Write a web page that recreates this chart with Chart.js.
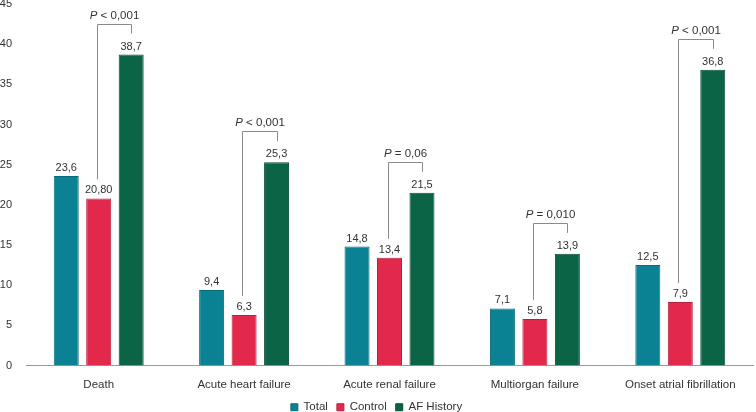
<!DOCTYPE html>
<html>
<head>
<meta charset="utf-8">
<script src="https://cdn.jsdelivr.net/npm/chart.js@4"></script>
<style>
  body { margin: 0; background: #fff; }
  #wrap { width: 756px; height: 412px; }
</style>
</head>
<body>
<div id="wrap"><canvas id="myChart"></canvas></div>
<script>
// categorias y series
const categories = ["Death", "Acute heart failure", "Acute renal failure", "Multiorgan failure", "Onset atrial fibrillation"];
const totalData = [23.6, 9.4, 14.8, 7.1, 12.5];
const controlData = [20.8, 6.3, 13.4, 5.8, 7.9];
const afData = [38.7, 25.3, 21.5, 13.9, 36.8];
// etiquetas tal como salen en la figura
const totalLabels = ["23,6", "9,4", "14,8", "7,1", "12,5"];
const controlLabels = ["20,80", "6,3", "13,4", "5,8", "7,9"];
const afLabels = ["38,7", "25,3", "21,5", "13,9", "36,8"];
const pSigns = ["<", "<", "=", "=", "<"];
const pValues = ["0,001", "0,001", "0,06", "0,010", "0,001"];
const yTicks = [0, 5, 10, 15, 20, 25, 30, 35, 40, 45];

const FONT = '"Liberation Sans", Arial, sans-serif';
const TXT = "#333";

// etiquetas de valor + corchetes con P
const annotPlugin = {
  id: "annot",
  afterDatasetsDraw(chart) {
    const ctx = chart.ctx;
    const labelSets = [totalLabels, controlLabels, afLabels];
    ctx.save();
    ctx.font = "11px " + FONT;
    ctx.fillStyle = TXT;
    ctx.textAlign = "center";
    ctx.textBaseline = "alphabetic";
    labelSets.forEach((labs, d) => {
      chart.getDatasetMeta(d).data.forEach((bar, i) => {
        ctx.fillText(labs[i], bar.x, bar.y - 5);
      });
    });

    const mc = chart.getDatasetMeta(1).data;
    const ma = chart.getDatasetMeta(2).data;
    ctx.strokeStyle = "#8a8a8a";
    ctx.lineWidth = 1;
    for (let i = 0; i < categories.length; i++) {
      const c = mc[i], a = ma[i];
      const lx = Math.round(c.x - 2) + 0.5;
      const rx = Math.round(a.x) + 0.5;
      const top = Math.round(a.y - 31) + 0.5;
      ctx.beginPath();
      ctx.moveTo(lx, c.y - 19);
      ctx.lineTo(lx, top);
      ctx.lineTo(rx, top);
      ctx.lineTo(rx, a.y - 21);
      ctx.stroke();

      // texto P (P en cursiva)
      const pPart = "P";
      const rest = " " + pSigns[i] + " " + pValues[i];
      ctx.font = "italic 11.5px " + FONT;
      const w1 = ctx.measureText(pPart).width;
      ctx.font = "11.5px " + FONT;
      const w2 = ctx.measureText(rest).width;
      const cx = (lx + rx) / 2;
      const x0 = cx - (w1 + w2) / 2;
      const ty = top - 6;
      ctx.textAlign = "left";
      ctx.font = "italic 11.5px " + FONT;
      ctx.fillText(pPart, x0, ty);
      ctx.font = "11.5px " + FONT;
      ctx.fillText(rest, x0 + w1, ty);
      ctx.textAlign = "center";
      ctx.font = "11px " + FONT;
    }
    ctx.restore();
  }
};

const ctx = document.getElementById("myChart");
new Chart(ctx, {
  type: "bar",
  data: {
    labels: categories,
    datasets: [
      {
        label: "Total",
        data: totalData,
        backgroundColor: "#0a8294",
        borderColor: "#086b79",
        borderWidth: 1,
      },
      {
        label: "Control",
        data: controlData,
        backgroundColor: "#e2294b",
        borderColor: "#b8203c",
        borderWidth: 1,
      },
      {
        label: "AF History",
        data: afData,
        backgroundColor: "#0b6446",
        borderColor: "#084d36",
        borderWidth: 1,
      },
    ],
  },
  options: {
    responsive: true,
    maintainAspectRatio: false,
    animation: false,
    categoryPercentage: 0.67,
    barPercentage: 0.77,
    layout: { padding: { top: 0, right: 3, bottom: -11, left: 0 } },
    scales: {
      x: {
        grid: { display: false, drawTicks: false },
        border: { display: true, color: "#999", width: 1 },
        ticks: { color: TXT, font: { family: FONT, size: 11.5 }, padding: 12 },
        afterFit: (axis) => { axis.height = 27; },
      },
      y: {
        min: 0,
        max: 45,
        afterBuildTicks: (axis) => { axis.ticks = yTicks.map((v) => ({ value: v })); },
        grid: { display: false, drawTicks: false },
        border: { display: false },
        ticks: { color: TXT, font: { family: FONT, size: 11 }, padding: 14 },
        afterFit: (axis) => {
          axis.width = 26;
          axis.paddingTop = 4;
          axis.paddingBottom = 0;
        },
      },
    },
    plugins: {
      legend: {
        position: "bottom",
        labels: {
          boxWidth: 7,
          boxHeight: 7,
          padding: 9,
          color: TXT,
          font: { family: FONT, size: 11.5 },
        },
      },
      tooltip: { enabled: false },
    },
  },
  plugins: [annotPlugin],
});
</script>
</body>
</html>
